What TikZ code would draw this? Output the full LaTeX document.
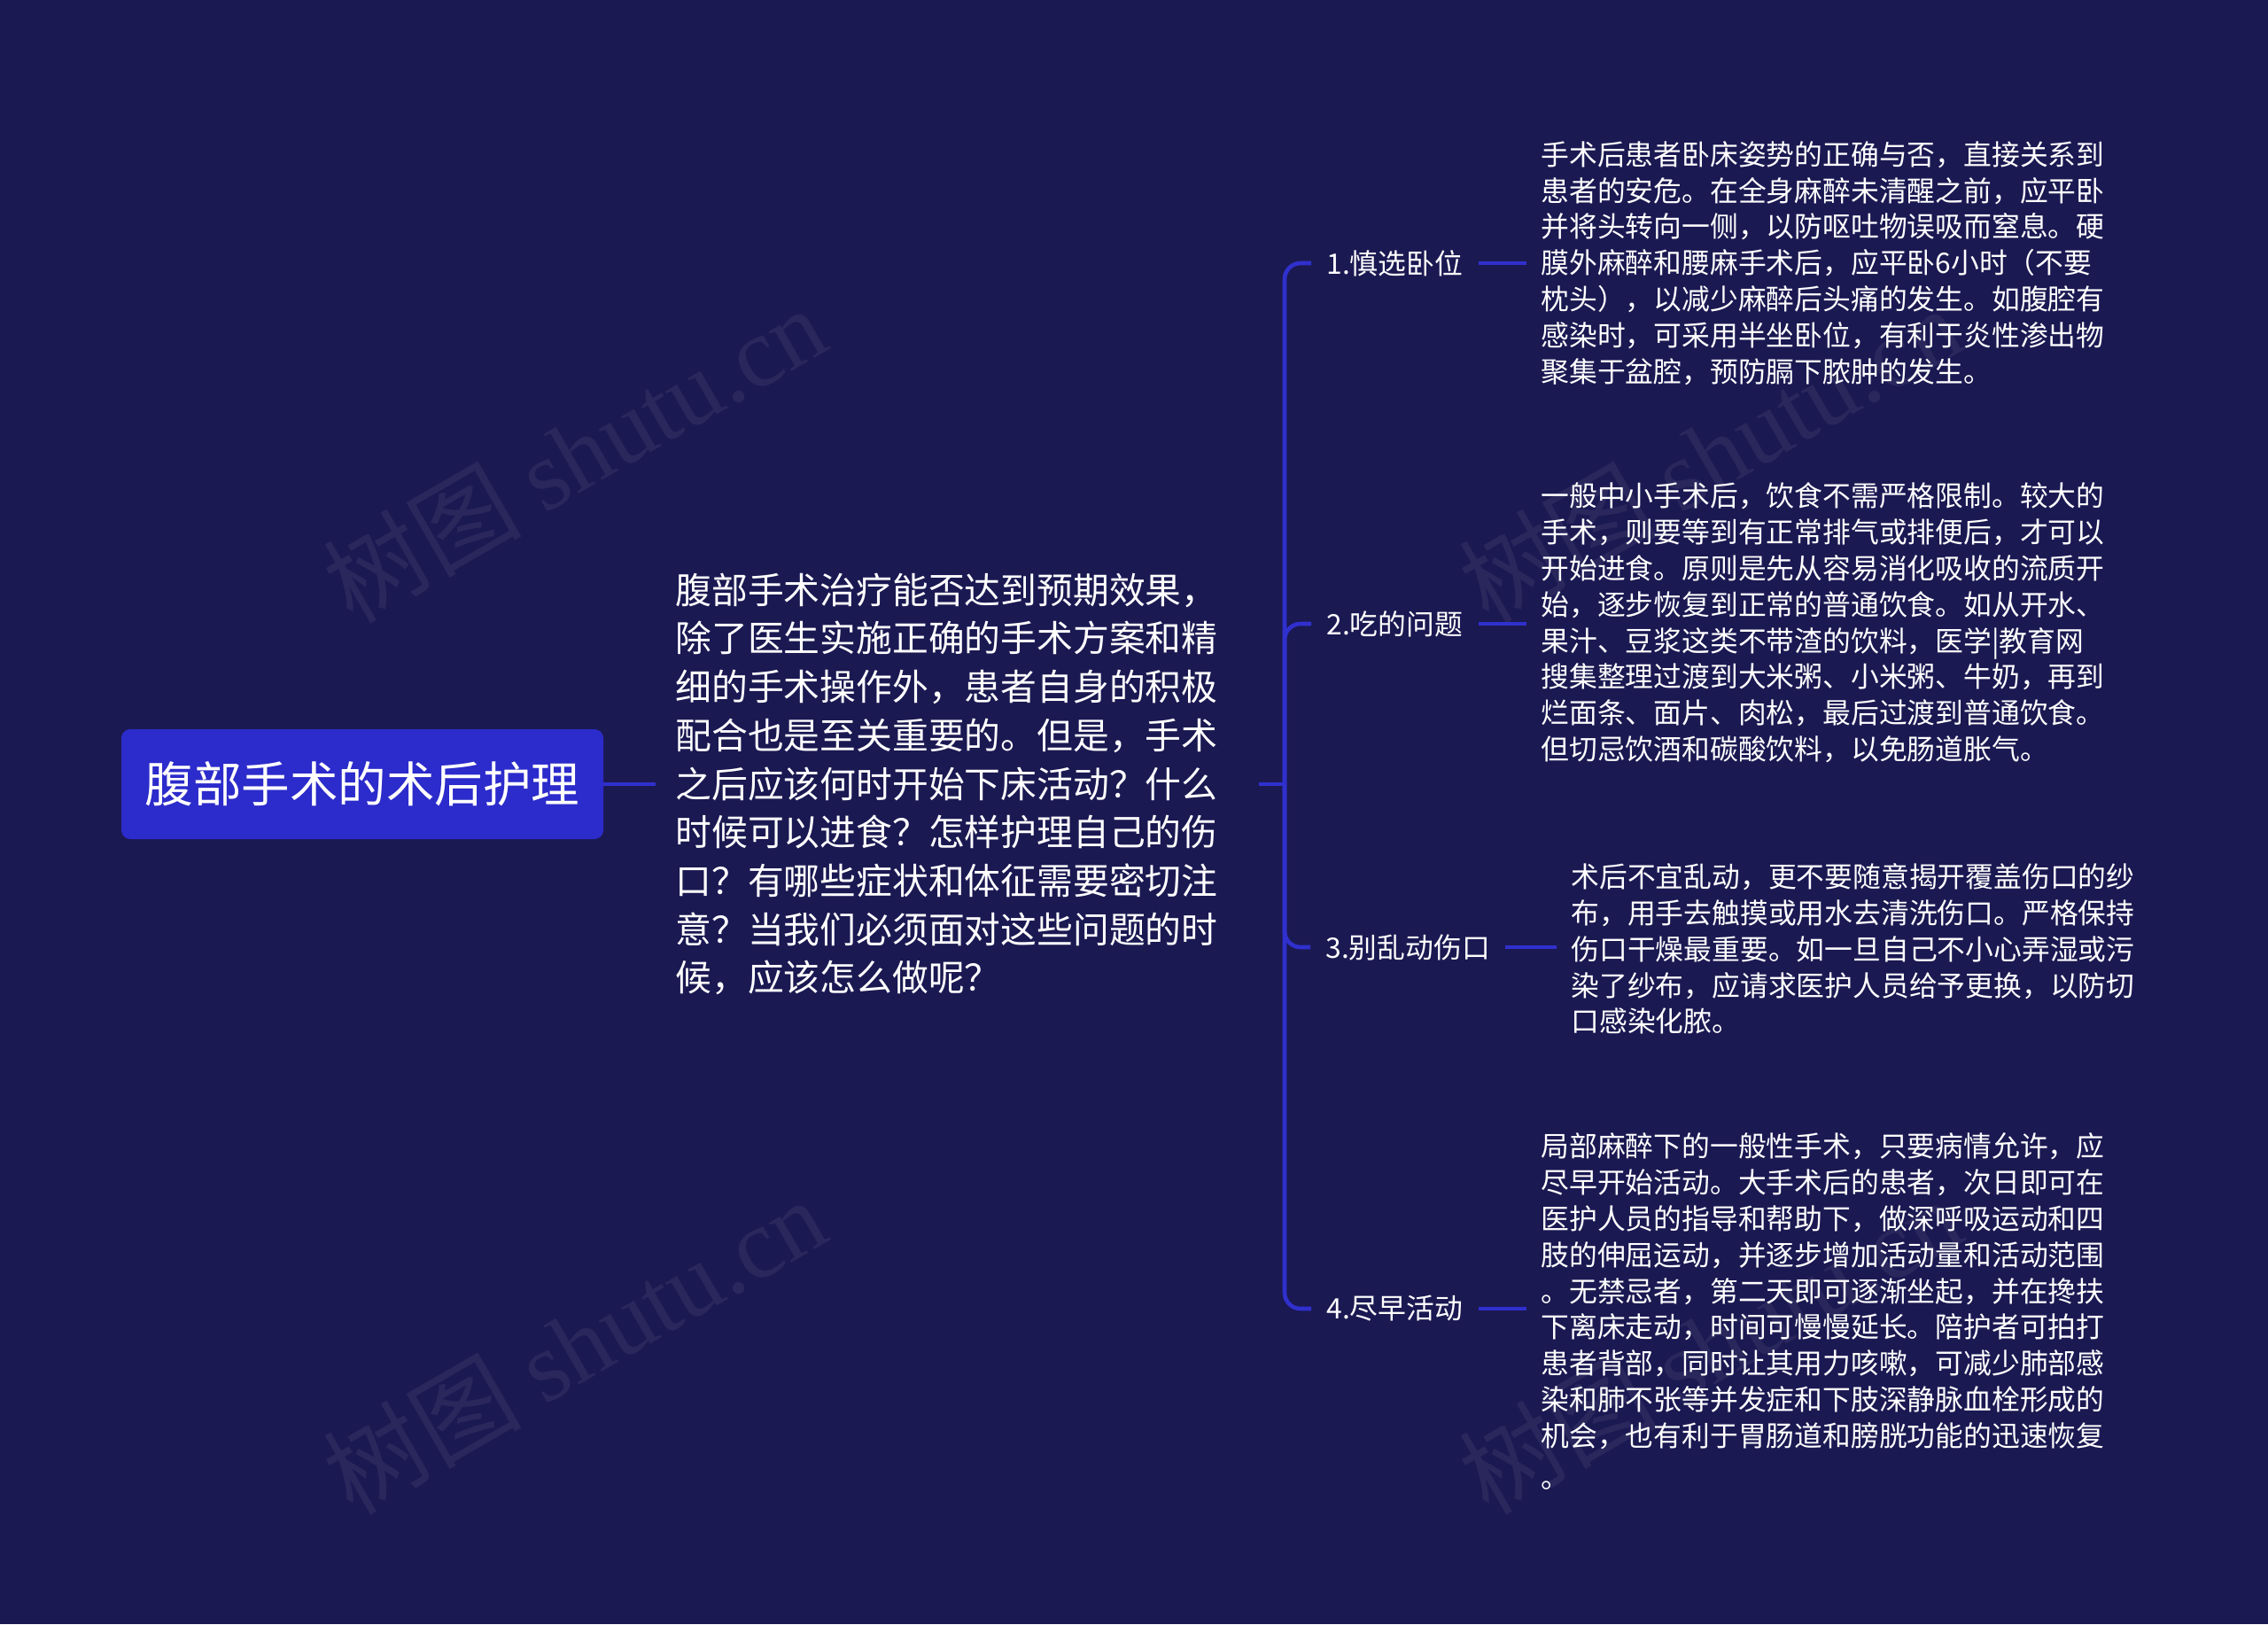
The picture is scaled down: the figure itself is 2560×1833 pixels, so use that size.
\documentclass[tikz,border=0pt]{standalone}
\usepackage{fontspec}
\setmainfont{Noto Sans CJK SC}
\newfontfamily\wmserif{Liberation Serif}
\definecolor{bg}{HTML}{1B1952}
\definecolor{rootblue}{HTML}{2C2BCB}
\definecolor{linecol}{HTML}{3030CE}
\colorlet{wmcol}{white!6!bg}
\tikzset{
  rootbox/.style={fill=rootblue, rounded corners=5pt, minimum width=272pt, minimum height=62pt,
    inner sep=0pt, text=white, font=\fontsize{27.25pt}{30pt}\selectfont},
  introtext/.style={text=white, align=left, text width=318pt, inner xsep=11pt, inner ysep=0pt,
    anchor=west, font=\fontsize{20.4pt}{27.35pt}\selectfont},
  lbl/.style={text=white, inner xsep=8.5pt, inner ysep=2pt, anchor=west,
    font=\fontsize{15.9pt}{20.4pt}\selectfont},
  desc/.style={text=white, align=left, inner xsep=8pt, inner ysep=0pt, anchor=west,
    font=\fontsize{15.9pt}{20.4pt}\selectfont},
  conn/.style={draw=linecol, line width=2.3pt},
  wm/.style={text=wmcol, rotate=30, font=\fontsize{56pt}{60pt}\selectfont, inner sep=0pt}
}
\begin{document}
\begin{tikzpicture}[x=0.5pt,y=-0.5pt]
\fill[bg] (0,0) rectangle (2560,1833);
\useasboundingbox (0,0) rectangle (2560,1833);

% watermarks
\node[wm] (wm1) at (648,512) {树图 {\wmserif shutu.cn}};
\node[wm] (wm2) at (648,1518) {树图 {\wmserif shutu.cn}};
\node[wm] (wm3) at (1930,512) {树图 {\wmserif shutu.cn}};
\node[wm] (wm4) at (1930,1518) {树图 {\wmserif shutu.cn}};

% root
\node[rootbox] (root) at (409,885) {腹部手术的术后护理};

% intro
\node[introtext] (intro) at (740,885) {腹部手术治疗能否达到预期效果，\\
除了医生实施正确的手术方案和精\\
细的手术操作外，患者自身的积极\\
配合也是至关重要的。但是，手术\\
之后应该何时开始下床活动？什么\\
时候可以进食？怎样护理自己的伤\\
口？有哪些症状和体征需要密切注\\
意？当我们必须面对这些问题的时\\
候，应该怎么做呢？};

\coordinate (junc) at (1450,885);

% labels
\node[lbl] (l1) at (1480,297) {1.慎选卧位};
\node[lbl] (l2) at (1480,704) {2.吃的问题};
\node[lbl] (l3) at (1479,1069) {3.别乱动伤口};
\node[lbl] (l4) at (1480,1477) {4.尽早活动};

% descriptions
\node[desc] (t1) at (1723,297) {手术后患者卧床姿势的正确与否，直接关系到\\
患者的安危。在全身麻醉未清醒之前，应平卧\\
并将头转向一侧，以防呕吐物误吸而窒息。硬\\
膜外麻醉和腰麻手术后，应平卧6小时（不要\\
枕头），以减少麻醉后头痛的发生。如腹腔有\\
感染时，可采用半坐卧位，有利于炎性渗出物\\
聚集于盆腔，预防膈下脓肿的发生。};

\node[desc] (t2) at (1723,703) {一般中小手术后，饮食不需严格限制。较大的\\
手术，则要等到有正常排气或排便后，才可以\\
开始进食。原则是先从容易消化吸收的流质开\\
始，逐步恢复到正常的普通饮食。如从开水、\\
果汁、豆浆这类不带渣的饮料，医学|教育网\\
搜集整理过渡到大米粥、小米粥、牛奶，再到\\
烂面条、面片、肉松，最后过渡到普通饮食。\\
但切忌饮酒和碳酸饮料，以免肠道胀气。};

\node[desc] (t3) at (1757,1071) {术后不宜乱动，更不要随意揭开覆盖伤口的纱\\
布，用手去触摸或用水去清洗伤口。严格保持\\
伤口干燥最重要。如一旦自己不小心弄湿或污\\
染了纱布，应请求医护人员给予更换，以防切\\
口感染化脓。};

\node[desc] (t4) at (1723,1480) {局部麻醉下的一般性手术，只要病情允许，应\\
尽早开始活动。大手术后的患者，次日即可在\\
医护人员的指导和帮助下，做深呼吸运动和四\\
肢的伸屈运动，并逐步增加活动量和活动范围\\
。无禁忌者，第二天即可逐渐坐起，并在搀扶\\
下离床走动，时间可慢慢延长。陪护者可拍打\\
患者背部，同时让其用力咳嗽，可减少肺部感\\
染和肺不张等并发症和下肢深静脉血栓形成的\\
机会，也有利于胃肠道和膀胱功能的迅速恢复\\[3pt]
。};

% connectors
\draw[conn] (root.east) -- (intro.west);
\draw[conn] (intro.east) -- (junc);
\draw[conn, rounded corners=9pt] (junc) |- (l1.west);
\draw[conn, rounded corners=9pt] (junc) |- (l2.west);
\draw[conn, rounded corners=9pt] (junc) |- (l3.west);
\draw[conn, rounded corners=9pt] (junc) |- (l4.west);
\draw[conn] (l1.east) -- (t1.west |- l1.east);
\draw[conn] (l2.east) -- (t2.west |- l2.east);
\draw[conn] (l3.east) -- (t3.west |- l3.east);
\draw[conn] (l4.east) -- (t4.west |- l4.east);
\end{tikzpicture}
\end{document}
